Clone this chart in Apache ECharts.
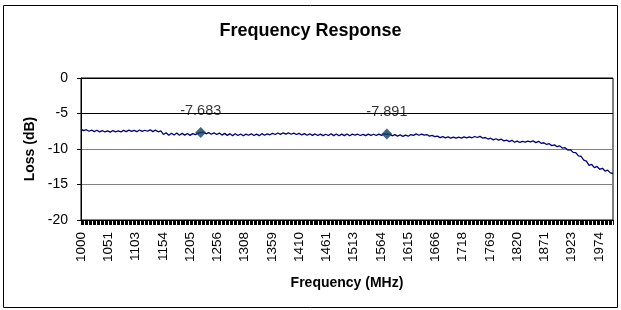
<!DOCTYPE html>
<html>
<head>
<meta charset="utf-8">
<script src="https://cdn.jsdelivr.net/npm/echarts@6/dist/echarts.min.js"></script>
<style>
  html, body { margin: 0; padding: 0; background: #fff; }
  #chart { width: 621px; height: 310px; }
</style>
</head>
<body>
<div id="chart"></div>
<script>
// 频率轴: 1000 ~ 2000 MHz, 步长 1.25 MHz (801 个类目)
const freqStart = 1000;
const freqStep = 1.25;
const freqCount = 801;

// 每 5 MHz 读一个损耗值 (dB), 1000 ~ 2000 MHz
const lossDb = [
  -7.20, -7.42, -7.28, -7.50, -7.33, -7.55, -7.36, -7.58, -7.40, -7.60,
  -7.45, -7.62, -7.40, -7.58, -7.44, -7.60, -7.38, -7.55, -7.35, -7.52,
  -7.38, -7.56, -7.32, -7.52, -7.36, -7.50, -7.30, -7.55, -7.34, -7.58,
  -7.45, -7.95, -7.70, -8.05, -7.78, -8.02, -7.74, -8.06, -7.80, -8.04,
  -7.82, -8.08, -7.84, -7.98, -7.76, -7.683, -7.64, -7.86, -7.70, -7.92,
  -7.72, -7.96, -7.76, -8.04, -7.80, -8.08, -7.84, -8.12, -7.86, -8.10,
  -7.88, -8.14, -7.90, -8.06, -7.86, -8.10, -7.90, -8.12, -7.84, -8.06,
  -7.86, -8.00, -7.80, -7.96, -7.74, -7.94, -7.72, -7.90, -7.74, -7.92,
  -7.76, -7.96, -7.80, -8.02, -7.84, -8.06, -7.86, -8.08, -7.88, -8.10,
  -7.90, -8.12, -7.92, -8.10, -7.86, -8.12, -7.88, -8.14, -7.90, -8.12,
  -7.88, -8.14, -7.90, -8.06, -7.92, -8.10, -7.94, -8.12, -7.90, -8.08,
  -7.92, -8.10, -7.90, -8.08, -7.86, -7.891, -7.90, -8.14, -7.98, -8.18,
  -8.02, -8.22, -8.04, -8.20, -7.96, -8.08, -7.88, -8.06, -7.90, -8.04,
  -7.96, -8.18, -8.08, -8.26, -8.18, -8.40, -8.26, -8.44, -8.30, -8.46,
  -8.32, -8.48, -8.34, -8.46, -8.30, -8.44, -8.28, -8.42, -8.24, -8.38,
  -8.22, -8.46, -8.38, -8.60, -8.48, -8.72, -8.56, -8.76, -8.62, -8.86,
  -8.74, -8.96, -8.78, -9.04, -8.90, -9.08, -8.94, -9.02, -8.88, -8.98,
  -8.86, -9.10, -8.92, -9.20, -9.12, -9.36, -9.26, -9.52, -9.42, -9.68,
  -9.56, -9.88, -9.82, -10.14, -10.10, -10.48, -10.50, -10.96, -11.02, -11.58,
  -11.70, -12.30, -12.18, -12.62, -12.46, -12.86, -12.72, -13.10, -12.98, -13.36,
  -13.45
];
const sampleEvery = 4; // 5 MHz = 4 个类目

// 标记点
const markerFreq = [1225, 1575];
const markerLoss = [-7.683, -7.891];

const font = "'Liberation Sans', Arial, sans-serif";

let categories = [];
for (let i = 0; i < freqCount; i++) {
    categories.push(String(Math.round(freqStart + i * freqStep)));
}
let lineData = lossDb.map((v, k) => [k * sampleEvery, v]);
let markerData = markerFreq.map((f, k) => [Math.round((f - freqStart) / freqStep), markerLoss[k]]);

const chartObj = echarts.init(document.getElementById("chart"));
let option = {
    animation: false,
    backgroundColor: "#fff",
    title: {
        text: "Frequency Response",
        left: "center",
        top: 17,
        textStyle: { fontFamily: font, fontSize: 18, fontWeight: "bold", color: "#000" },
    },
    graphic: [
        {
            type: "rect",
            shape: { x: 3.5, y: 5.5, width: 614, height: 302 },
            style: { fill: "none", stroke: "#000", lineWidth: 1 },
            silent: true,
        },
    ],
    grid: {
        left: 81,
        right: 8,
        top: 78,
        bottom: 90,
        show: true,
        borderColor: "#000",
        borderWidth: 1,
    },
    xAxis: {
        type: "category",
        data: categories,
        boundaryGap: false,
        name: "Frequency (MHz)",
        nameLocation: "middle",
        nameGap: 56,
        nameTextStyle: { fontFamily: font, fontSize: 14, fontWeight: "bold", color: "#000" },
        axisLine: { onZero: false, lineStyle: { color: "#000", width: 1 } },
        axisTick: { interval: 1, length: 5, lineStyle: { color: "#000", width: 1 } },
        axisLabel: {
            interval: 40,
            rotate: 90,
            margin: 12,
            fontFamily: font,
            fontSize: 13.5,
            color: "#000",
        },
        splitLine: { show: false },
    },
    yAxis: {
        type: "value",
        min: -20,
        max: 0,
        interval: 5,
        name: "Loss (dB)",
        nameLocation: "middle",
        nameGap: 42,
        nameTextStyle: { fontFamily: font, fontSize: 14, fontWeight: "bold", color: "#000" },
        axisLine: { show: true, lineStyle: { color: "#000", width: 1 } },
        axisTick: { show: true, length: 4, lineStyle: { color: "#000" } },
        axisLabel: { margin: 13, fontFamily: font, fontSize: 14, color: "#000" },
        splitLine: {
            show: true,
            lineStyle: { color: ["#000", "#808080", "#808080", "#000", "#000"], width: 1 },
        },
    },
    series: [
        {
            type: "line",
            data: lineData,
            showSymbol: false,
            lineStyle: { color: "#000080", width: 1.3 },
            z: 2,
        },
        {
            type: "scatter",
            data: markerData,
            symbol: "diamond",
            symbolSize: [11, 11],
            itemStyle: { color: "#123d63" },
            label: {
                show: true,
                position: "top",
                distance: 9,
                formatter: (p) => p.value[1].toFixed(3),
                fontFamily: font,
                fontSize: 14.5,
                color: "#000",
            },
            z: 3,
        },
    ],
};
chartObj.setOption(option);
</script>
</body>
</html>
